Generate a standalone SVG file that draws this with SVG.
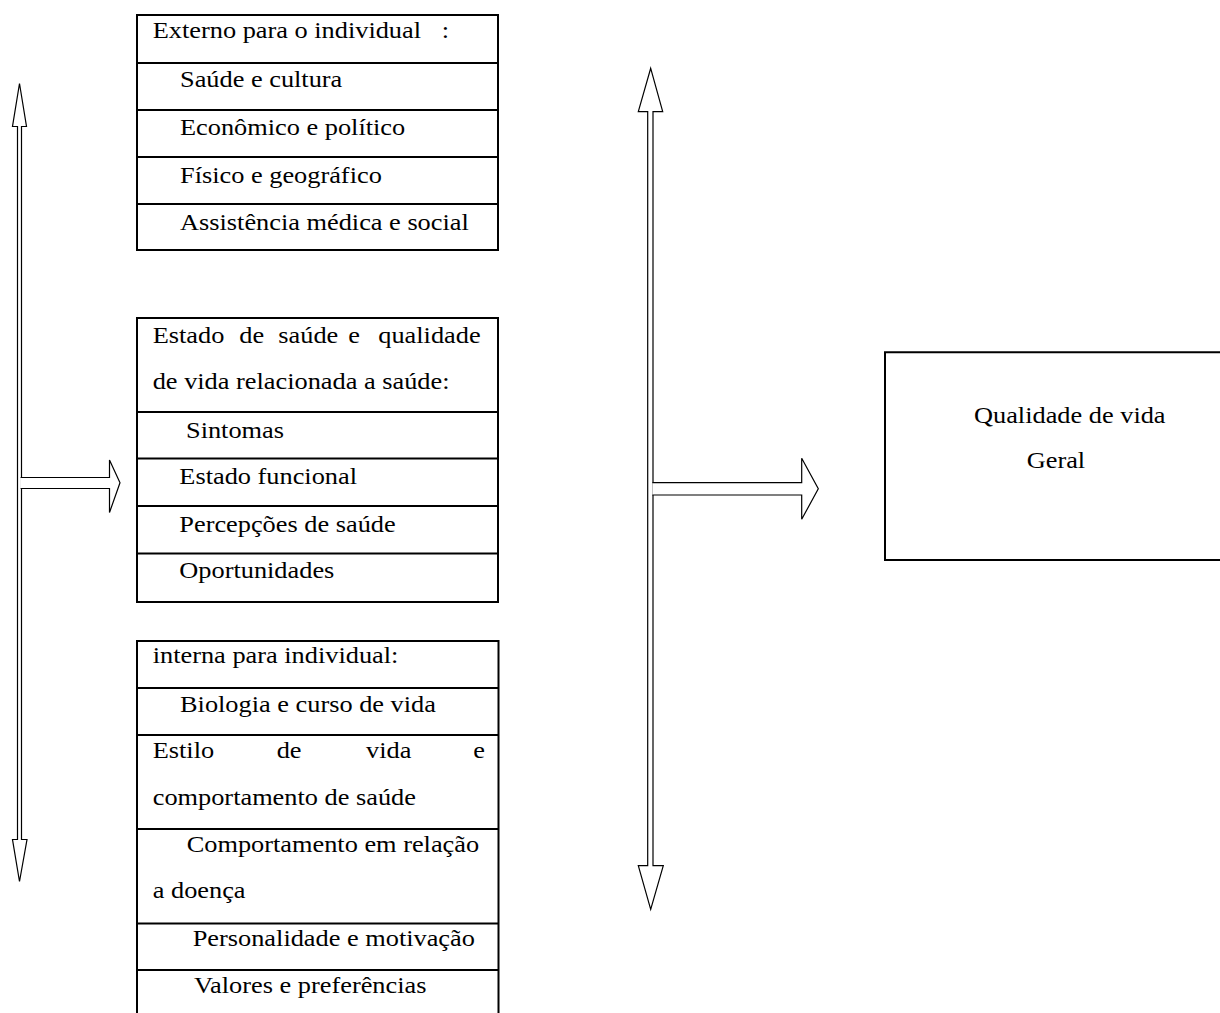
<svg xmlns="http://www.w3.org/2000/svg" width="1220" height="1013" viewBox="0 0 1220 1013">
<style>
  .bx{fill:none;stroke:#000;stroke-width:2}
  .ar{fill:#fff;stroke:#000;stroke-width:1.2;stroke-linejoin:miter}
  text{font-family:"Liberation Serif","Times New Roman",serif;font-size:23px;fill:#000}
</style>
<rect width="1220" height="1013" fill="#fff"/>

<g id="connectors">
  <path class="ar" d="M19.5,83.5 L26.5,126.5 H21.5 V839.5 H27 L19.5,881.5 L12.5,839.5 H17.5 V126.5 H12.5 Z"/>
  <path class="ar" d="M20.6,477.5 H109.5 V460 L120,482.8 L109.5,512.5 V488.5 H20.6"/>
  <path class="ar" d="M650.7,68.3 L662.7,111.7 H653 V865.7 H663.3 L650.7,909.3 L638.3,865.7 H647.7 V111.7 H638.3 Z"/>
  <path class="ar" d="M652.4,482.7 H801.7 V458.3 L818.3,488.8 L801.7,519.3 V495 H652.4"/>
</g>

<g id="box-externo">
  <rect class="bx" x="137" y="15" width="361" height="235"/>
  <path class="bx" d="M137,63 H498 M137,110 H498 M137,157 H498 M137,204 H498"/>
  <text transform="translate(152.7,38.3) scale(1.145,1)">Externo para o individual<tspan x="252.4">:</tspan></text>
  <text transform="translate(180,87.3) scale(1.145,1)">Saúde e cultura</text>
  <text transform="translate(180,135) scale(1.145,1)">Econômico e político</text>
  <text transform="translate(180,182.7) scale(1.145,1)">Físico e geográfico</text>
  <text transform="translate(180,230) scale(1.145,1)">Assistência médica e social</text>
</g>

<g id="box-estado">
  <rect class="bx" x="137" y="318" width="361" height="284"/>
  <path class="bx" d="M137,412 H498 M137,458.5 H498 M137,506 H498 M137,553.5 H498"/>
  <text transform="translate(152.7,343.3) scale(1.145,1)">Estado<tspan x="75.6">de</tspan><tspan x="109.7">saúde</tspan><tspan x="170.8">e</tspan><tspan x="197">qualidade</tspan></text>
  <text transform="translate(152.7,389) scale(1.145,1)">de vida relacionada a saúde:</text>
  <text transform="translate(186,437.7) scale(1.145,1)">Sintomas</text>
  <text transform="translate(179.3,484) scale(1.145,1)">Estado funcional</text>
  <text transform="translate(179.3,531.7) scale(1.145,1)">Percepções de saúde</text>
  <text transform="translate(179.3,578.3) scale(1.145,1)">Oportunidades</text>
</g>

<g id="box-interna">
  <path class="bx" d="M137,1014 V641 H498.5 V1014"/>
  <path class="bx" d="M137,688 H498.5 M137,735 H498.5 M137,829 H498.5 M137,923.5 H498.5 M137,970 H498.5"/>
  <text transform="translate(152.7,663.3) scale(1.145,1)">interna para individual:</text>
  <text transform="translate(180,711.7) scale(1.145,1)">Biologia e curso de vida</text>
  <text transform="translate(152.7,758.3) scale(1.145,1)">Estilo<tspan x="108.3">de</tspan><tspan x="186.3">vida</tspan><tspan x="280">e</tspan></text>
  <text transform="translate(152.7,805) scale(1.145,1)">comportamento de saúde</text>
  <text transform="translate(186.7,852.3) scale(1.145,1)">Comportamento em relação</text>
  <text transform="translate(152.7,898.3) scale(1.145,1)">a doença</text>
  <text transform="translate(192.7,946) scale(1.145,1)">Personalidade e motivação</text>
  <text transform="translate(194,993.3) scale(1.145,1)">Valores e preferências</text>
</g>

<g id="box-qualidade">
  <path class="bx" d="M1221,352.3 H885 V560 H1221"/>
  <text transform="translate(974,423.3) scale(1.145,1)">Qualidade de vida</text>
  <text transform="translate(1026.7,468.3) scale(1.145,1)">Geral</text>
</g>
</svg>
